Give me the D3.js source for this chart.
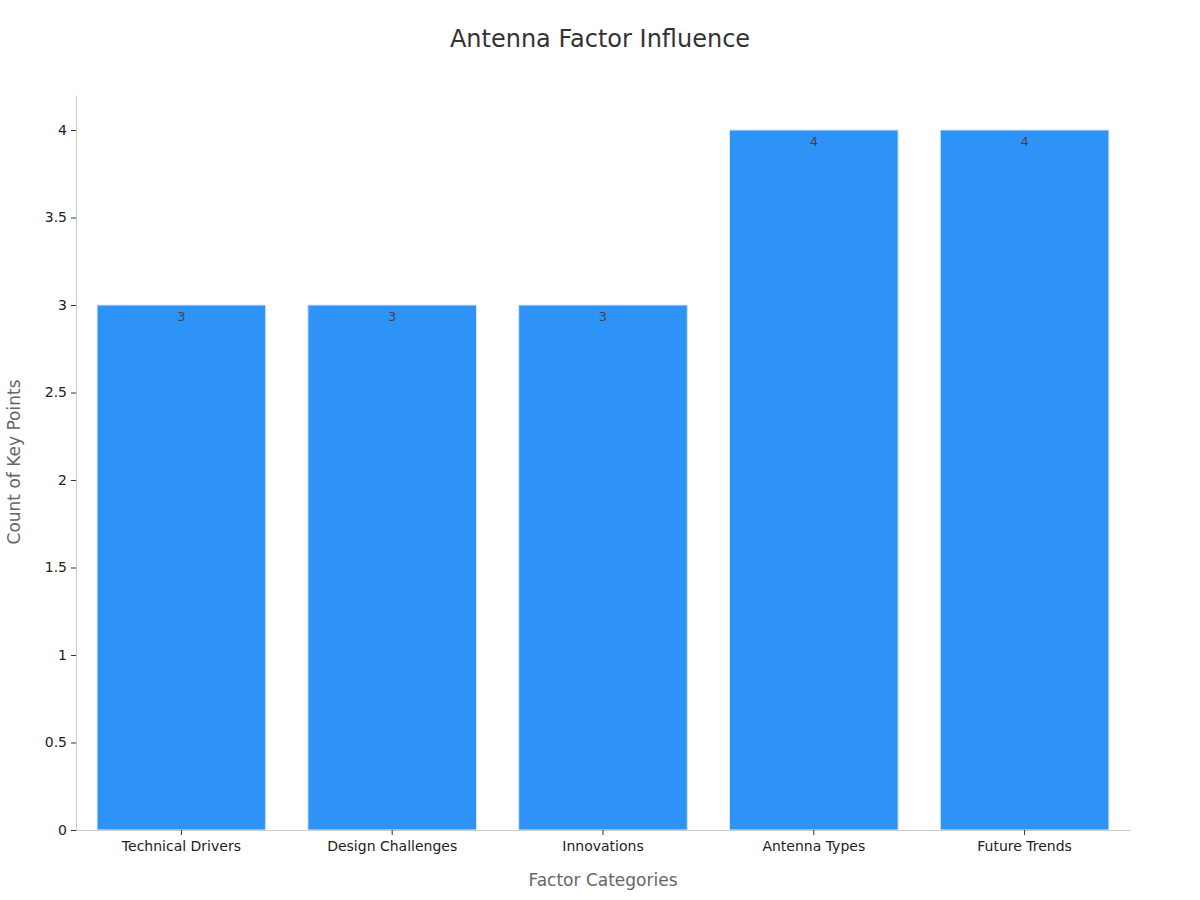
<!DOCTYPE html>
<html><head><meta charset="utf-8">
<script src="https://cdn.jsdelivr.net/npm/d3@7"></script>
<style>body{margin:0;background:#fff;font-family:"DejaVu Sans",sans-serif}</style>
</head><body><div id="chart"></div>
<script>
var categories = ["Technical Drivers","Design Challenges","Innovations","Antenna Types","Future Trends"]
var counts = [3,3,3,4,4]
var yTicks = [0,0.5,1,1.5,2,2.5,3,3.5,4]

var width = 1200, height = 900
var plotLeft = 76, plotRight = 1130, plotTop = 95, plotBottom = 830

var svg = d3.select("#chart").append("svg").attr("width",width).attr("height",height)

var x = d3.scaleBand().domain(categories).range([plotLeft,plotRight]).paddingInner(0.2).paddingOuter(0.1)
var y = d3.scaleLinear().domain([0,4.2]).range([plotBottom,plotTop])

svg.append("text").text("Antenna Factor Influence").attr("x",600).attr("y",47)
  .attr("text-anchor","middle").attr("font-size",24).attr("fill","#333")

svg.selectAll("rect.bar").data(counts).enter().append("rect")
  .attr("class","bar")
  .attr("x",function(d,i){return x(categories[i])})
  .attr("width",x.bandwidth())
  .attr("y",function(d){return y(d)})
  .attr("height",function(d){return plotBottom-y(d)})
  .attr("fill","#2e93f7").attr("stroke","#d6e8fb").attr("stroke-width",1)

svg.selectAll("text.val").data(counts).enter().append("text")
  .attr("class","val")
  .attr("x",function(d,i){return x(categories[i])+x.bandwidth()/2})
  .attr("y",function(d){return y(d)+16})
  .attr("text-anchor","middle").attr("font-size",13).attr("fill","#444")
  .text(function(d){return d})

var ya = svg.append("g").attr("transform","translate("+plotLeft+",0)")
  .call(d3.axisLeft(y).tickValues(yTicks).tickSize(5).tickPadding(4).tickFormat(d3.format("")).tickSizeOuter(0))
ya.select(".domain").attr("stroke","#ccc")
ya.selectAll(".tick line").attr("stroke","#333")
ya.selectAll("text").attr("font-size",14).attr("fill","#222").attr("font-family","DejaVu Sans")

var xa = svg.append("g").attr("transform","translate(0,"+plotBottom+")")
  .call(d3.axisBottom(x).tickSize(5).tickPadding(6).tickSizeOuter(0))
xa.select(".domain").attr("stroke","#ccc")
xa.selectAll(".tick line").attr("stroke","#333")
xa.selectAll("text").attr("font-size",14).attr("fill","#222").attr("font-family","DejaVu Sans")

svg.append("text").text("Factor Categories").attr("x",603).attr("y",886)
  .attr("text-anchor","middle").attr("font-size",17).attr("fill","#666")
svg.append("text").text("Count of Key Points")
  .attr("transform","translate(20,462) rotate(-90)")
  .attr("text-anchor","middle").attr("font-size",17).attr("fill","#666")
</script></body></html>
